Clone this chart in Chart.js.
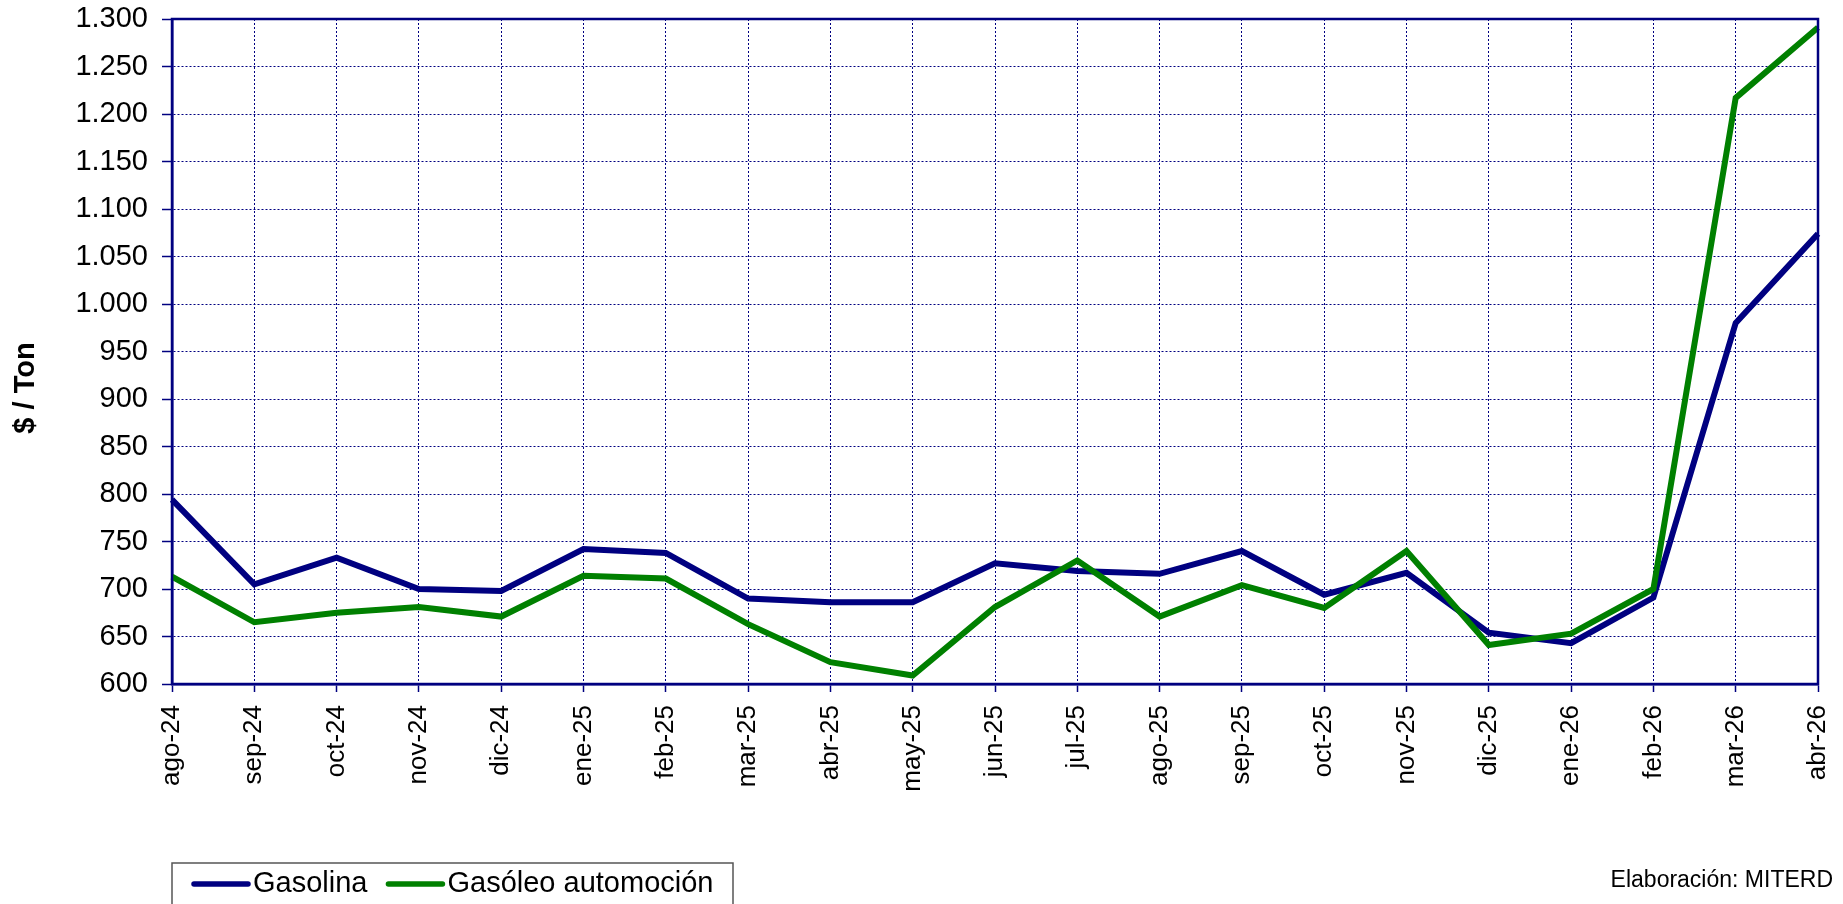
<!DOCTYPE html>
<html>
<head>
<meta charset="utf-8">
<script src="https://cdn.jsdelivr.net/npm/chart.js@4.4.1/dist/chart.umd.min.js"></script>
<style>
  body { margin: 0; background: #fff; }
  #wrap { width: 1843px; height: 904px; }
</style>
</head>
<body>
<div id="wrap"><canvas id="preciosChart" width="1843" height="904"></canvas></div>
<script>
const meses = [
  "ago-24", "sep-24", "oct-24", "nov-24", "dic-24", "ene-25", "feb-25",
  "mar-25", "abr-25", "may-25", "jun-25", "jul-25", "ago-25", "sep-25",
  "oct-25", "nov-25", "dic-25", "ene-26", "feb-26", "mar-26", "abr-26",
];

const gasolina = [
  794, 705, 733, 700, 698, 742, 738, 690, 686, 686, 727,
  719, 716, 740, 694, 717, 654, 643, 691, 980, 1074,
];

const gasoleo = [
  713, 665, 675, 681, 671, 714, 711, 663, 623, 609, 681,
  730, 671, 704, 680, 740, 641, 653, 700, 1217, 1291,
];

const yMin = 600;
const yMax = 1300;
const yStep = 50;

const navy = "#000080";
const verde = "#008000";
const fuente = "'Liberation Sans', Arial, sans-serif";

// 1.300 con punto de miles
function miles(v) {
  return String(v).replace(/\B(?=(\d{3})+(?!\d))/g, ".");
}

// marco, título del eje, leyenda y fuente
const extras = {
  id: "extras",
  afterDraw(chart) {
    const { ctx, chartArea: a } = chart;
    ctx.save();

    ctx.strokeStyle = navy;
    ctx.lineWidth = 2.5;
    ctx.strokeRect(a.left, a.top, a.right - a.left, a.bottom - a.top);

    // "$ / Ton"
    ctx.fillStyle = "#000";
    ctx.font = "bold 29px " + fuente;
    ctx.textAlign = "center";
    ctx.textBaseline = "middle";
    ctx.translate(26, 388);
    ctx.rotate(-Math.PI / 2);
    ctx.fillText("$ / Ton", 0, 0);
    ctx.setTransform(1, 0, 0, 1, 0, 0);

    // leyenda
    ctx.strokeStyle = "#555";
    ctx.lineWidth = 1.5;
    ctx.strokeRect(172, 863, 561, 60);
    ctx.font = "29px " + fuente;
    ctx.textAlign = "left";
    let x = 194;
    const y = 884;
    [0, 1].forEach((i) => {
      const ds = chart.data.datasets[i];
      ctx.strokeStyle = ds.borderColor;
      ctx.lineWidth = 5.5;
      ctx.lineCap = "round";
      ctx.beginPath();
      ctx.moveTo(x, y);
      ctx.lineTo(x + 54, y);
      ctx.stroke();
      ctx.fillStyle = "#000";
      ctx.fillText(ds.label, x + 59, y);
      x += 59 + ctx.measureText(ds.label).width + 21;
    });

    ctx.font = "23px " + fuente;
    ctx.textAlign = "right";
    ctx.fillText("Elaboración: MITERD", 1833, 881);
    ctx.restore();
  },
};

const ctx = document.getElementById("preciosChart").getContext("2d");

const chart = new Chart(ctx, {
  type: "line",
  data: {
    labels: meses,
    datasets: [
      {
        label: "Gasolina",
        data: gasolina,
        borderColor: navy,
        borderWidth: 6,
        pointRadius: 0,
        tension: 0,
        fill: false,
        order: 1,
      },
      {
        label: "Gasóleo automoción",
        data: gasoleo,
        borderColor: verde,
        borderWidth: 6,
        pointRadius: 0,
        tension: 0,
        fill: false,
        order: 0,
      },
    ],
  },
  options: {
    responsive: false,
    animation: false,
    layout: { padding: { top: 19, right: 25, left: 0, bottom: 0 } },
    plugins: {
      legend: { display: false },
      tooltip: { enabled: false },
    },
    scales: {
      x: {
        offset: false,
        afterFit(scale) {
          scale.height = 220;
          scale.paddingLeft = 0;
          scale.paddingRight = 0;
        },
        grid: {
          color: navy,
          lineWidth: 1,
          tickLength: 8,
          tickColor: navy,
          tickWidth: 1.5,
        },
        border: { display: true, color: navy, width: 2.5, dash: [2, 2] },
        ticks: {
          autoSkip: false,
          maxRotation: 90,
          minRotation: 90,
          padding: 13,
          color: "#000",
          font: { family: fuente, size: 26 },
        },
      },
      y: {
        min: yMin,
        max: yMax,
        afterFit(scale) {
          scale.width = 172;
          scale.paddingTop = 0;
          scale.paddingBottom = 0;
        },
        grid: {
          color: navy,
          lineWidth: 1,
          tickLength: 10,
          tickColor: navy,
          tickWidth: 1.5,
        },
        border: { display: true, color: navy, width: 2.5, dash: [2, 2] },
        ticks: {
          stepSize: yStep,
          padding: 14,
          color: "#000",
          font: { family: fuente, size: 29 },
          callback: (v) => miles(v),
        },
      },
    },
  },
  plugins: [extras],
});
</script>
</body>
</html>
